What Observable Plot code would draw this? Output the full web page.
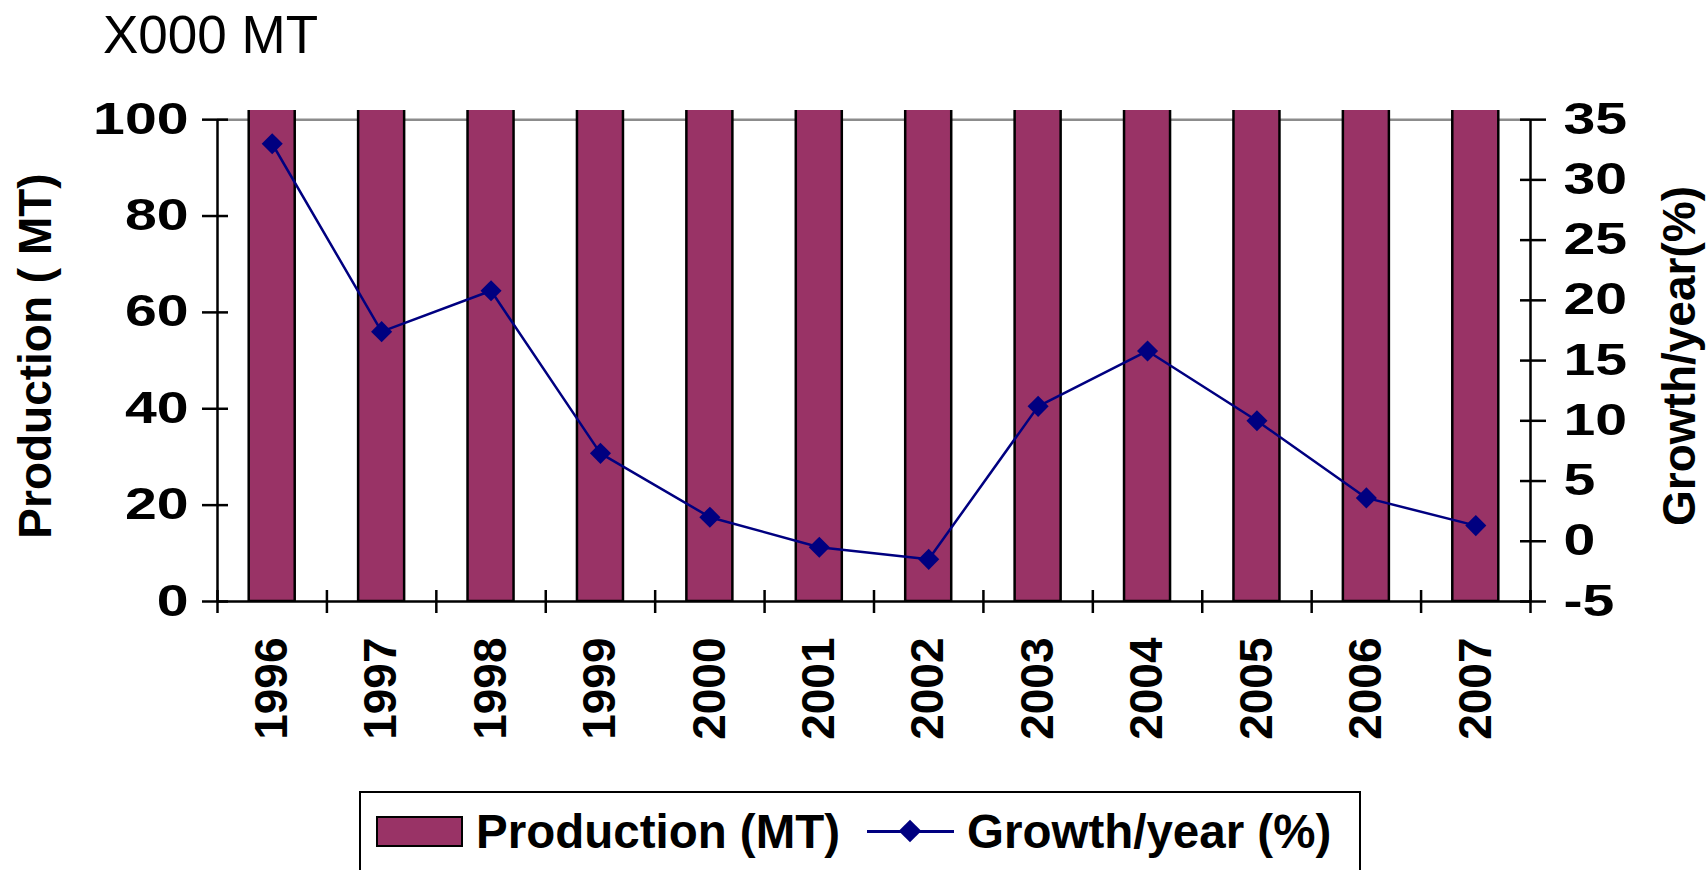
<!DOCTYPE html>
<html>
<head>
<meta charset="utf-8">
<script src="https://cdn.jsdelivr.net/npm/d3@7"></script>
<script src="https://cdn.jsdelivr.net/npm/@observablehq/plot@0.6"></script>
<style>
  html, body { margin: 0; padding: 0; background: #fff; }
  #page { position: relative; width: 1707px; height: 870px; overflow: hidden; font-family: "Liberation Sans", Arial, sans-serif; color: #000; }
  #title { position: absolute; left: 103px; top: 8px; font-size: 53px; line-height: 53px; white-space: nowrap; }
  #chart { position: absolute; left: 0; top: 0; }
  #legend { position: absolute; left: 359px; top: 791px; width: 1002px; height: 140px; border: 2.5px solid #000; box-sizing: border-box; background: #fff; }
  .lg { position: absolute; }
  .lgtext { font-size: 47.5px; line-height: 47.5px; font-weight: bold; white-space: nowrap; top: 15px; }
</style>
</head>
<body>
<div id="page">
  <div id="chart"></div>
  <div id="title">X000 MT</div>
  <div id="legend">
    <div class="lg" style="left:15px; top:23px; width:87px; height:31px; background:#993366; border:2.5px solid #000; box-sizing:border-box;"></div>
    <div class="lg lgtext" id="lg1" style="left:115px;"></div>
    <div class="lg" style="left:506px; top:37px; width:87px; height:2.5px; background:#000080;"></div>
    <div class="lg" style="left:541px; top:30px; width:16px; height:16px; background:#000080; transform:rotate(45deg);"></div>
    <div class="lg lgtext" id="lg2" style="left:606px;"></div>
  </div>
</div>
<script>
// ---- data ----
const years = [1996, 1997, 1998, 1999, 2000, 2001, 2002, 2003, 2004, 2005, 2006, 2007];
// production (x000 MT) — all bars run past the top of the 0–100 axis (clipped)
const production = [120, 141, 170, 182, 186, 185, 182, 202, 234, 257, 266, 270];
const growth = [33.0, 17.4, 20.8, 7.3, 2.0, -0.5, -1.5, 11.2, 15.8, 10.0, 3.6, 1.3];
const prodTicks = [0, 20, 40, 60, 80, 100];
const growthTicks = [-5, 0, 5, 10, 15, 20, 25, 30, 35];
const gridLines = [100];
const seriesNames = ["Production (MT)", "Growth/year (%)"];
const axisTitles = ["Production ( MT)", "Growth/year(%)"];

// ---- helpers ----
const prodMax = prodTicks[prodTicks.length - 1];
const gMin = growthTicks[0], gMax = growthTicks[growthTicks.length - 1];
const g2p = g => (g - gMin) / (gMax - gMin) * prodMax;
const p2g = p => p / prodMax * (gMax - gMin) + gMin;

const data = years.map((year, i) => ({year, production: production[i], growth: growth[i]}));
const xLo = years[0] - 0.5, xHi = years[years.length - 1] + 0.5;
const boundaries = years.map(y => y - 0.5).concat([xHi]);

const PLUM = "#993366", NAVY = "#000080";
const FONT = "'Liberation Sans', Arial, sans-serif";

const chart = Plot.plot({
  width: 1707,
  height: 780,
  marginLeft: 217,
  marginRight: 177,
  marginTop: 110,
  marginBottom: 179,
  x: {type: "linear", domain: [xLo, xHi], axis: null},
  y: {domain: [0, prodMax * 1.019], axis: null},
  style: {fontFamily: FONT, color: "#000", background: "transparent", overflow: "visible"},
  marks: [
    Plot.ruleY(gridLines, {stroke: "#8c8c8c", strokeWidth: 2.5}),
    Plot.rectY(data, {
      x1: d => d.year - 0.5, x2: d => d.year + 0.5, y: "production",
      insetLeft: 31.7, insetRight: 31.7,
      fill: PLUM, stroke: "#000", strokeWidth: 2.5, clip: true
    }),
    Plot.ruleY([0], {stroke: "#000", strokeWidth: 2.5}),
    Plot.ruleX([xLo, xHi], {y1: 0, y2: prodMax, stroke: "#000", strokeWidth: 2.5}),
    Plot.axisY(prodTicks, {
      anchor: "left", tickSize: 26, dx: 11, tickPadding: 14,
      fontSize: 44, fontWeight: "bold", strokeWidth: 2.5,
      tickFormat: d => String(d), label: null
    }),
    Plot.axisY(growthTicks.map(g2p), {
      anchor: "right", tickSize: 26, dx: -11, tickPadding: 18,
      fontSize: 44, fontWeight: "bold", strokeWidth: 2.5,
      tickFormat: v => String(Math.round(p2g(v))), label: null
    }),
    Plot.axisX(boundaries, {
      anchor: "bottom", tickSize: 23, dy: -11, strokeWidth: 2.5,
      tickFormat: () => "", label: null
    }),
    Plot.axisX(years, {
      anchor: "bottom", tickSize: 0, tickRotate: -90, tickPadding: 36,
      fontSize: 46, fontWeight: "bold",
      tickFormat: d => String(d), label: null
    }),
    Plot.line(data, {x: "year", y: d => g2p(d.growth), stroke: NAVY, strokeWidth: 2.5}),
    Plot.dot(data, {x: "year", y: d => g2p(d.growth), symbol: "diamond2", r: 9.5, fill: NAVY, stroke: "none"}),
    Plot.text([axisTitles[0]], {text: d => d, frameAnchor: "left", textAnchor: "middle", dx: -181, rotate: -90, fontSize: 46, fontWeight: "bold", fill: "#000"}),
    Plot.text([axisTitles[1]], {text: d => d, frameAnchor: "right", textAnchor: "middle", dx: 150, rotate: -90, fontSize: 46, fontWeight: "bold", fill: "#000"})
  ]
});
// widen the y tick labels horizontally, as in the reference's stretched bold digits
chart.querySelectorAll("text").forEach(t => {
  const g = t.closest("g");
  if (!g) return;
  const isY = (g.getAttribute("aria-label") || "").includes("y-axis tick label");
  if (isY) {
    const tr = t.getAttribute("transform") || "";
    t.setAttribute("transform", tr + " scale(1.3,1)");
  }
});
document.getElementById("chart").appendChild(chart);
document.getElementById("lg1").textContent = seriesNames[0];
document.getElementById("lg2").textContent = seriesNames[1];
</script>
</body>
</html>
